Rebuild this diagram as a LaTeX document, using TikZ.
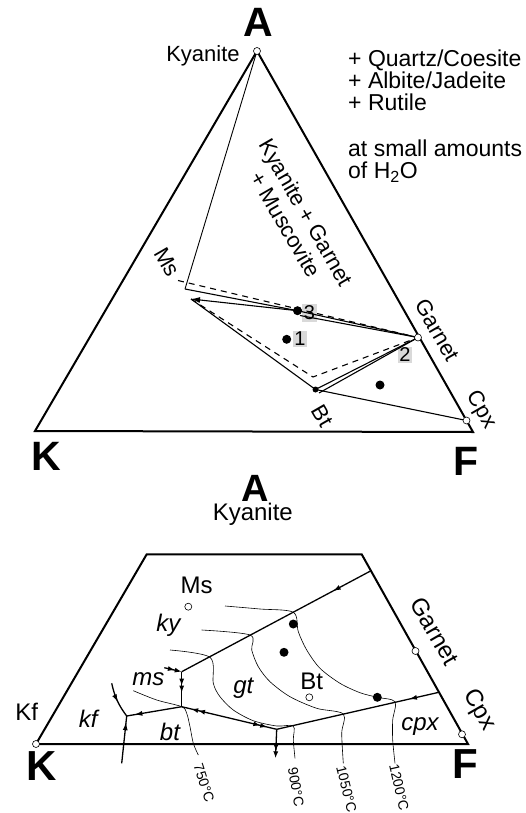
\documentclass[tikz,border=0pt]{standalone}
\usepackage{fontspec}
\setmainfont{Liberation Sans}
\usetikzlibrary{arrows.meta, decorations.markings}

\begin{document}
\begin{tikzpicture}[
    x=1pt, y=-1pt,
    edge/.style={line width=2pt},
    tie/.style={line width=1.1pt},
    dashtie/.style={line width=1.1pt, dash pattern=on 6pt off 5pt},
    react/.style={line width=1.3pt},
    iso/.style={line width=0.6pt},
    phase/.style={circle, draw, fill=white, line width=0.6pt, inner sep=0pt, minimum size=7pt},
    bulk/.style={circle, fill=black, inner sep=0pt, minimum size=9pt},
    corner/.style={font=\fontsize{41}{44}\selectfont\bfseries, inner sep=0pt, anchor=base},
    lbl/.style={font=\fontsize{22}{24}\selectfont, inner sep=0pt},
    lblb/.style={font=\fontsize{24}{26}\selectfont, inner sep=0pt},
    numbox/.style={fill=gray!30, font=\fontsize{20}{22}\selectfont, inner sep=1.5pt},
    field/.style={font=\fontsize{24}{26}\selectfont\itshape, inner sep=0pt},
    temp/.style={font=\fontsize{14}{16}\selectfont, inner sep=0pt},
    tip/.style={postaction={decorate}, decoration={markings,
        mark=at position #1 with {\arrow{Latex[length=8pt,width=5pt]}}}},
    dmid/.style={postaction={decorate}, decoration={markings,
        mark=at position #1 with {\arrow{Latex[length=7pt,width=5pt] Latex[length=7pt,width=5pt]}}}},
    dtip/.style={-{Latex[length=7pt,width=5pt] Latex[length=7pt,width=5pt]}}
]
\useasboundingbox (0,0) rectangle (526,813);

% --- upper triangle: corners ---
\coordinate (ta) at (257,51);
\coordinate (tk) at (35,431);
\coordinate (tf) at (473,432);
\draw[edge] (ta) -- (tk) -- (tf) -- cycle;

\node[corner] (la) at (258,36.7) {A};
\node[corner] (lk) at (46.5,470) {K};
\node[corner] (lf) at (466,475) {F};

% --- upper triangle: phases ---
\coordinate (ms) at (185,289);
\coordinate (msb) at (191,299);
\coordinate (ms0) at (178,280.5);
\coordinate (gt) at (418,337.5);
\coordinate (bt) at (315.5,389.5);
\coordinate (btb) at (319,393);
\coordinate (bd) at (313,377);
\coordinate (cpx) at (466.5,420.5);
\coordinate (p3) at (297.5,310.7);
\coordinate (p3b) at (300,315.5);

\node[numbox] (n1) at (300,339) {1};
\node[numbox] (n3) at (309.5,313) {3};
\node[numbox] (n2) at (405,355) {2};

\draw[tie, line width=0.9pt] (ta) -- (ms);
\draw[dashtie] (ms0) -- (gt);
\draw[dashtie] (msb) -- (bd) -- (gt);
\draw[tie] (ms) -- (p3);
\draw[tie, -{Latex[length=9pt,width=6pt]}] (p3) -- (msb);
\draw[tie] (p3) -- (gt);
\draw[tie] (p3b) -- (gt);
\draw[tie] (msb) -- (bt);
\draw[tie] (bt) -- (gt);
\draw[tie] (btb) -- (gt);
\draw[tie] (bt) -- (cpx);

\node[phase] (kya) at (ta) {};
\node[phase] (gta) at (gt) {};
\node[phase] (cpa) at (cpx) {};
\node[bulk, minimum size=6pt] (bta) at (bt) {};
\node[bulk] (d3) at (p3) {};
\node[bulk] (d1) at (286.7,339.3) {};
\node[bulk] (d4) at (380,385) {};

\node[lbl, anchor=base] (kyl) at (203,61.7) {Kyanite};
\node[lbl, rotate=-60] (msl) at (167,262) {Ms};
\node[lbl, rotate=-60] (gtl) at (437.5,330) {Garnet};
\node[lbl, rotate=-60] (cpl) at (481,410) {Cpx};
\node[lbl, rotate=-60] (btl) at (322.5,416) {Bt};
\node[lbl, rotate=-60, align=center] (asm) at (296,218.5) {Kyanite + Garnet\\+ Muscovite};

% base = last line
\node[font=\fontsize{23}{21.7}\selectfont, inner sep=0pt, anchor=base west, align=left] (extra) at (348,110.4)
    {+ Quartz/Coesite\\+ Albite/Jadeite\\+ Rutile};
\node[font=\fontsize{23}{21.7}\selectfont, inner sep=0pt, anchor=base west, align=left] (water) at (348,178.3)
    {at small amounts\\of H\textsubscript{2}O};

% --- lower diagram: frame ---
\coordinate (bk) at (36,744);
\coordinate (bf) at (468,744);
\coordinate (bl) at (146.7,554.3);
\coordinate (br) at (361.7,554.3);
\draw[edge] (bk) -- (bl) -- (br) -- (bf) -- cycle;

\node[corner, font=\fontsize{38}{40}\selectfont\bfseries] (la2) at (255,501.7) {A};
\node[lblb, anchor=base] (kyl2) at (252.8,520) {Kyanite};
\node[corner, font=\fontsize{42}{44}\selectfont\bfseries] (lk2) at (41.7,780) {K};
\node[corner, font=\fontsize{42}{44}\selectfont\bfseries] (lf2) at (465,778) {F};

% --- lower diagram: isotherms ---
\draw[iso] plot[smooth] coordinates {(225,606) (260,609) (293.3,612.3) (298.3,631.7) (306.7,650)
    (320,668.3) (340,683.3) (360,692.7) (377.3,697.3) (395,701.7) (392.7,720) (392.7,740) (395,763.3)};
\draw[iso] plot[smooth] coordinates {(201.7,630) (250,635) (251.7,650) (258.3,666.7) (270,681.7)
    (290,696.7) (316.7,708.3) (343.3,714) (341.7,733.3) (343.3,763.3)};
\draw[iso] plot[smooth] coordinates {(170,650) (210,657.3) (213.3,683.3) (220,696.7) (233.3,710)
    (253.3,720.7) (276.7,726) (293.3,726) (293.3,740) (295,758.3)};
\draw[iso] plot[smooth] coordinates {(133.3,690.7) (156.7,700) (181.7,706.7) (186.7,713.3)
    (190,726.7) (193.3,743.3) (198.3,755)};

\node[temp, rotate=-72] (t750) at (204,783) {750°C};
\node[temp, rotate=-80] (t900) at (296,787) {900°C};
\node[temp, rotate=-76] (t1050) at (346.5,789) {1050°C};
\node[temp, rotate=-77] (t1200) at (399,787.5) {1200°C};

% --- lower diagram: reaction curves ---
\coordinate (r1) at (370.5,571);
\coordinate (e0) at (164.3,667.7);
\coordinate (e1) at (181.7,671.7);
\coordinate (p1) at (181.7,706.7);
\coordinate (q) at (126.7,716);
\coordinate (p2) at (276.7,729.3);
\coordinate (p2d) at (275.5,758.3);
\coordinate (r2) at (438,692.5);
\coordinate (kfa) at (111.7,683.3);
\coordinate (kfb) at (121.7,763.3);

\draw[react, tip=0.2] (r1) -- (e1);
\draw[react, dtip] (e0) -- (e1);
\draw[react, dmid=0.6] (e1) -- (p1);
\draw[react, tip=0.86] (p1) -- (q);
\draw[react, postaction={decorate}, decoration={markings,
    mark=at position 0.1 with {\arrowreversed{Latex[length=7pt,width=5pt] Latex[length=7pt,width=5pt]}},
    mark=at position 0.9 with {\arrow{Latex[length=7pt,width=5pt] Latex[length=7pt,width=5pt]}}}] (p1) -- (p2);
\draw[react, dtip] (p2) -- (p2d);
\draw[react, tip=0.18] (r2) -- (p2);
\draw[react, tip=0.55] (kfa) to[bend right=12] (q);
\draw[react, tip=0.87] (kfb) -- (q);

% --- lower diagram: phases ---
\node[phase] (kfp) at (bk) {};
\node[phase] (msp) at (188.3,606.7) {};
\node[phase] (btp) at (309.3,697.3) {};
\node[phase] (gtp) at (415.5,651) {};
\node[phase] (cpp) at (462,734.3) {};
\node[bulk] (e2) at (293.3,624) {};
\node[bulk] (e3) at (284,652.3) {};
\node[bulk] (e4) at (377.3,697.3) {};

\node[lblb] (msl2) at (196.7,585) {Ms};
\node[lblb] (btl2) at (311.7,681.7) {Bt};
\node[lblb] (kfl) at (26.7,711.7) {Kf};
\node[lblb, rotate=-60] (gtl2) at (435,631) {Garnet};
\node[lblb, rotate=-60] (cpl2) at (479,710) {Cpx};

\node[field] (fky) at (168.3,625) {ky};
\node[field] (fms) at (148.3,679.3) {ms};
\node[field] (fkf) at (88.3,718.3) {kf};
\node[field] (fbt) at (170,731.7) {bt};
\node[field] (fgt) at (243.3,688.3) {gt};
\node[field] (fcp) at (420,726.7) {cpx};
\end{tikzpicture}
\end{document}
